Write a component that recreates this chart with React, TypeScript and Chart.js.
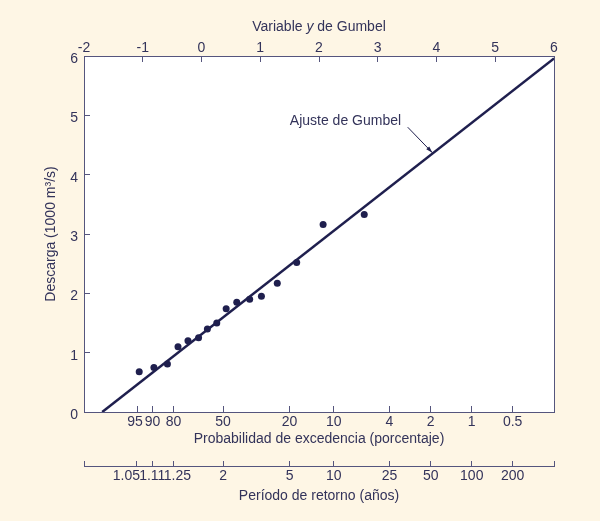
import React, { useEffect, useRef } from "react";
import { Chart, registerables } from "chart.js";
Chart.register(...registerables);

// Observed data: Gumbel reduced variate vs discharge (1000 m3/s)
const gumbelY = [-1.06, -0.81, -0.58, -0.40, -0.23, -0.05, 0.10, 0.26, 0.42, 0.60, 0.82, 1.02, 1.29, 1.62, 2.07, 2.77];
const discharge = [0.68, 0.75, 0.81, 1.10, 1.20, 1.25, 1.40, 1.50, 1.74, 1.85, 1.90, 1.95, 2.17, 2.52, 3.16, 3.33];

// Gumbel fit line end points
const fitX = [-1.69, 6];
const fitY = [0, 5.96];

// Axis ticks / labels
const gumbelTicks = [-2, -1, 0, 1, 2, 3, 4, 5, 6];
const dischargeTicks = [0, 1, 2, 3, 4, 5, 6];
const probLabels = ["95", "90", "80", "50", "20", "10", "4", "2", "1", "0.5"];
const returnLabels = ["1.05", "1.11", "1.25", "2", "5", "10", "25", "50", "100", "200"];

// Annotation
const annotationText = "Ajuste de Gumbel";
const annotationAnchor = { x: 2.45, y: 4.91 };
const arrowFrom = { x: 3.51, y: 4.80 };
const arrowTo = { x: 3.93, y: 4.37 };

const TEXT = "#33335a";
const AXIS = "#55557d";
const MARK = "#1f1f4e";
const BG = "#fef6e5";
const FONT = "'Liberation Sans', Arial, Helvetica, sans-serif";
const FS = 14;

const reducedFromProb = (pct: number) => -Math.log(-Math.log(1 - pct / 100));
const reducedFromReturn = (t: number) => -Math.log(-Math.log(1 - 1 / t));

// label spacing tweaks (to keep crowded labels apart as in the original)
const probPad: Record<string, string> = { "95": "95 " };
const retPad: Record<string, string> = { "1.05": "1.05     ", "1.25": "  1.25" };

export default function App() {
  const ref = useRef<HTMLCanvasElement | null>(null);

  useEffect(() => {
    if (!ref.current) return;
    const probVals = probLabels.map((l) => reducedFromProb(parseFloat(l)));
    const retVals = [-2, ...returnLabels.map((l) => reducedFromReturn(parseFloat(l))), 6];
    const retText = ["", ...returnLabels, ""];

    const bgPlugin = {
      id: "bg",
      beforeDraw(chart: any) {
        const { ctx, chartArea } = chart;
        ctx.save();
        ctx.fillStyle = BG;
        ctx.fillRect(0, 0, chart.width, chart.height);
        ctx.fillStyle = "#ffffff";
        ctx.fillRect(chartArea.left, chartArea.top, chartArea.right - chartArea.left, chartArea.bottom - chartArea.top);
        ctx.restore();
      },
      afterDraw(chart: any) {
        const { ctx, chartArea } = chart;
        const xs = chart.scales.x;
        const ys = chart.scales.y;
        ctx.save();
        ctx.strokeStyle = AXIS;
        ctx.lineWidth = 1;
        ctx.beginPath();
        ctx.moveTo(Math.round(chartArea.right) + 0.5, chartArea.top);
        ctx.lineTo(Math.round(chartArea.right) + 0.5, chartArea.bottom);
        ctx.stroke();

        // top axis title with italic y
        const parts = [
          { t: "Variable ", f: `${FS}px ${FONT}` },
          { t: "y", f: `italic ${FS}px ${FONT}` },
          { t: " de Gumbel", f: `${FS}px ${FONT}` },
        ];
        let total = 0;
        parts.forEach((p) => { ctx.font = p.f; total += ctx.measureText(p.t).width; });
        let cx = (chartArea.left + chartArea.right) / 2 - total / 2;
        ctx.fillStyle = TEXT;
        ctx.textAlign = "left";
        ctx.textBaseline = "middle";
        const ty = 27;
        parts.forEach((p) => { ctx.font = p.f; ctx.fillText(p.t, cx, ty); cx += ctx.measureText(p.t).width; });

        // annotation
        ctx.font = `${FS}px ${FONT}`;
        ctx.textAlign = "center";
        ctx.fillText(annotationText, xs.getPixelForValue(annotationAnchor.x), ys.getPixelForValue(annotationAnchor.y));
        const x1 = xs.getPixelForValue(arrowFrom.x);
        const y1 = ys.getPixelForValue(arrowFrom.y);
        const x2 = xs.getPixelForValue(arrowTo.x);
        const y2 = ys.getPixelForValue(arrowTo.y);
        ctx.strokeStyle = MARK;
        ctx.lineWidth = 1;
        ctx.beginPath();
        ctx.moveTo(x1, y1);
        ctx.lineTo(x2, y2);
        ctx.stroke();
        const ang = Math.atan2(y2 - y1, x2 - x1);
        const L = 7;
        ctx.fillStyle = MARK;
        ctx.beginPath();
        ctx.moveTo(x2, y2);
        ctx.lineTo(x2 - L * Math.cos(ang - 0.3), y2 - L * Math.sin(ang - 0.3));
        ctx.lineTo(x2 - L * Math.cos(ang + 0.3), y2 - L * Math.sin(ang + 0.3));
        ctx.closePath();
        ctx.fill();
        ctx.restore();
      },
    };

    Chart.defaults.font.family = FONT;
    Chart.defaults.font.size = FS;
    Chart.defaults.color = TEXT;

    const chart = new Chart(ref.current, {
      type: "scatter",
      data: {
        datasets: [
          {
            type: "line",
            label: "Ajuste de Gumbel",
            data: fitX.map((x, i) => ({ x, y: fitY[i] })),
            borderColor: MARK,
            borderWidth: 2.5,
            pointRadius: 0,
            fill: false,
            xAxisID: "x",
            yAxisID: "y",
          } as any,
          {
            label: "Observado",
            data: gumbelY.map((x, i) => ({ x, y: discharge[i] })),
            backgroundColor: MARK,
            borderColor: MARK,
            pointRadius: 3.5,
            pointBorderWidth: 0,
            xAxisID: "x",
            yAxisID: "y",
          },
        ],
      },
      options: {
        animation: false,
        responsive: false,
        maintainAspectRatio: false,
        layout: { padding: { left: 0, right: 46, top: 0, bottom: 0 } },
        plugins: { legend: { display: false }, tooltip: { enabled: false } },
        scales: {
          x: {
            type: "linear",
            position: "top",
            min: -2,
            max: 6,
            afterBuildTicks: (s: any) => { s.ticks = gumbelTicks.map((v) => ({ value: v })); },
            afterFit: (s: any) => { s.height = 56; },
            ticks: { padding: 5, autoSkip: false, maxRotation: 0, color: TEXT, callback: (v: any) => String(v) },
            grid: { drawOnChartArea: false, drawTicks: true, tickLength: -6, color: AXIS },
            border: { display: true, color: AXIS },
            title: { display: false, text: "Variable y de Gumbel" },
          },
          xp: {
            type: "linear",
            position: "bottom",
            min: -2,
            max: 6,
            afterBuildTicks: (s: any) => { s.ticks = probVals.map((v) => ({ value: v })); },
            afterFit: (s: any) => { s.height = 54; },
            ticks: { padding: 8, autoSkip: false, maxRotation: 0, color: TEXT, callback: (_v: any, i: number) => probPad[probLabels[i]] ?? probLabels[i] },
            grid: { drawOnChartArea: false, drawTicks: true, tickLength: -6, color: AXIS },
            border: { display: true, color: AXIS },
            title: { display: true, text: "Probabilidad de excedencia (porcentaje)", color: TEXT, padding: { top: 0, bottom: 18 } },
          },
          xt: {
            type: "linear",
            position: "bottom",
            min: -2,
            max: 6,
            afterBuildTicks: (s: any) => { s.ticks = retVals.map((v) => ({ value: v })); },
            afterFit: (s: any) => { s.height = 55; },
            ticks: { padding: 7, autoSkip: false, maxRotation: 0, color: TEXT, callback: (_v: any, i: number) => retPad[retText[i]] ?? retText[i] },
            grid: { drawOnChartArea: false, drawTicks: true, tickLength: -5, color: AXIS },
            border: { display: true, color: AXIS },
            title: { display: true, text: "Período de retorno (años)", color: TEXT, padding: { top: 0, bottom: 16 } },
          },
          y: {
            type: "linear",
            position: "left",
            min: 0,
            max: 6,
            afterBuildTicks: (s: any) => { s.ticks = dischargeTicks.map((v) => ({ value: v })); },
            afterFit: (s: any) => { s.width = 84; },
            ticks: { padding: 12, labelOffset: 3, autoSkip: false, color: TEXT, callback: (v: any) => String(v) },
            grid: { drawOnChartArea: false, drawTicks: true, tickLength: -6, color: AXIS },
            border: { display: true, color: AXIS },
            title: { display: true, text: "Descarga (1000 m³/s)", color: TEXT, padding: { top: 43, bottom: 0 } },
          },
        },
      } as any,
      plugins: [bgPlugin],
    });
    return () => chart.destroy();
  }, []);

  return (
    <div style={{ position: "absolute", left: 0, top: 0, width: 600, height: 521, background: BG }}>
      <canvas ref={ref} width={600} height={521} style={{ display: "block", width: 600, height: 521 }} />
    </div>
  );
}
